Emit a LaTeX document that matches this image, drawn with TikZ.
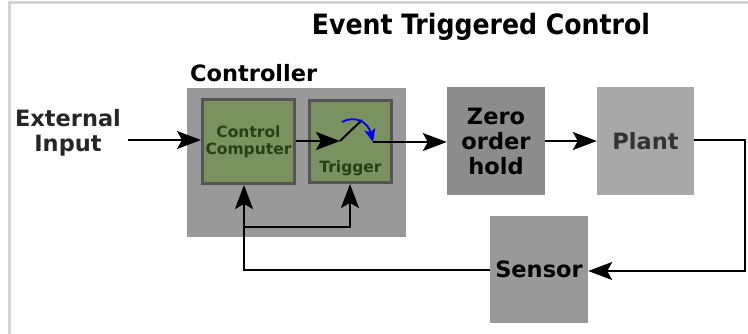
\documentclass[tikz,border=0pt]{standalone}
\usepackage{fontspec}
\setmainfont{DejaVu Sans}
\newfontfamily\condfont{DejaVu Sans Condensed}
\usetikzlibrary{arrows.meta}
\definecolor{framegray}{HTML}{D4D4D4}
\definecolor{ctrlgray}{HTML}{999999}
\definecolor{blockgreen}{HTML}{7A9160}
\definecolor{blockedge}{HTML}{555555}
\definecolor{greentext}{HTML}{2C3F14}
\definecolor{zohgray}{HTML}{8C8C8C}
\definecolor{plantgray}{HTML}{A8A8A8}
\definecolor{sensorgray}{HTML}{999999}
\tikzset{
  big/.style={font=\bfseries\fontsize{22.5}{25}\selectfont},
  small/.style={font=\bfseries\fontsize{15.5}{17.3}\selectfont},
  greenblock/.style={draw=blockedge, line width=3pt, fill=blockgreen, inner sep=0pt},
  flatblock/.style={inner sep=0pt, align=center},
  wire/.style={line width=2pt},
  thinwire/.style={line width=1.3pt},
  headed/.style={-{Stealth[length=24pt 0 0,width=18pt 0 0,inset=5pt 0]}},
}
\begin{document}
\begin{tikzpicture}[x=1pt,y=-1pt]
\useasboundingbox (0,0) rectangle (748,334);
% page frame
\draw[framegray, line width=3pt] (9.5,334) -- (9.5,2.5) -- (748,2.5);
% title
\node[font=\condfont\bfseries\fontsize{28}{30}\selectfont] (title) at (481,27) {Event Triggered Control};
% controller group
\fill[ctrlgray] (187,88) rectangle (406,237);
\node[big, anchor=base west, inner sep=0pt] (ctrllabel) at (190,82) {Controller};
\node[greenblock, minimum width=92pt, minimum height=84pt] (cc) at (248.5,141.5) {};
\node[small, text=greentext, align=center] (cctext) at (248.5,141.5) {Control\\Computer};
\node[greenblock, minimum width=82pt, minimum height=82pt] (trig) at (350.5,141.5) {};
\node[small, text=greentext] (trigtext) at (350.5,168) {Trigger};
% other blocks
\node[flatblock, fill=zohgray, minimum width=98pt, minimum height=108pt, big] (zoh) at (496,141) {Zero\\order\\hold};
\node[flatblock, fill=plantgray, minimum width=97pt, minimum height=108pt, big, text=black!80] (plant) at (645.5,141) {Plant};
\node[flatblock, fill=sensorgray, minimum width=98pt, minimum height=107pt, big] (sensor) at (539,269.5) {Sensor};
% external input
\node[big, align=center, text=black!85] (ext) at (68,133) {External\\Input};
% switch inside the trigger
\coordinate (pivot) at (340,141);
\coordinate (lever) at (362,120);
\coordinate (swout) at (373,142);
\coordinate (feedL) at (244,270);
\coordinate (feedB) at (244,227);
\coordinate (corner1) at (745,140);
\coordinate (corner2) at (745,271);
% connectors
\draw[thinwire, headed] (128,140) -- (cc.west |- 0,140);
\draw[wire, headed] (cc.east |- pivot) -- (pivot);
\draw[wire] (pivot) -- (lever);
\draw[thinwire, headed] (swout) -- (zoh.west |- swout);
\draw[blue, line width=1.8pt, -{Stealth[length=13pt 0 0,width=11pt 0 0,inset=3pt 0]}] (342,122) .. controls (355,115) and (368,122) .. (swout);
\draw[wire, headed] (zoh.east |- 0,141) -- (plant.west |- 0,141);
\draw[wire, headed] (plant.east |- corner1) -- (corner1) -- (corner2) -- (sensor.east |- corner2);
\draw[wire, headed] (sensor.west |- feedL) -- (feedL) -- (cc.south -| feedL);
\draw[wire, headed] (feedB) -- (350,227) -- (trig.south -| 350,0);
\end{tikzpicture}
\end{document}
